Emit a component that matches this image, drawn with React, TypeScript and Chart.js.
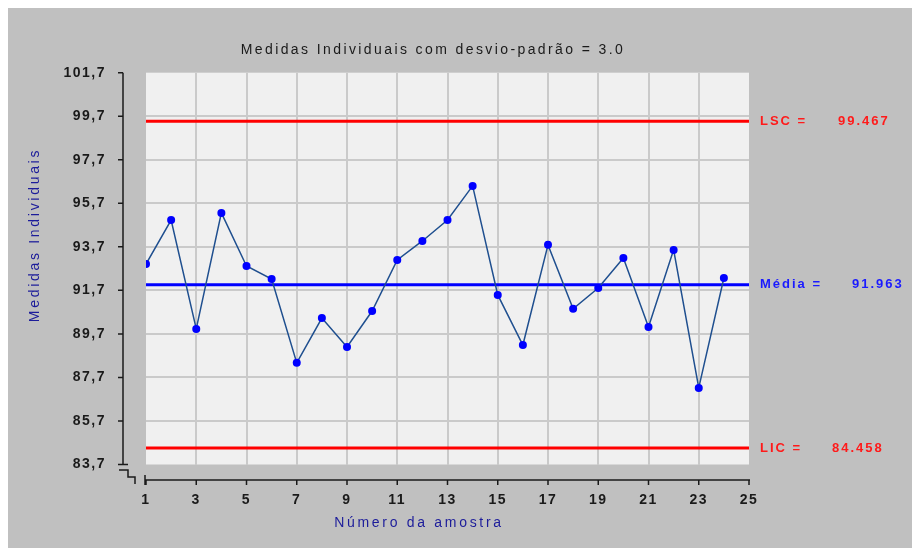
import { useEffect, useRef } from "react";
import { Chart, registerables } from "chart.js";

Chart.register(...registerables);

const sampleNumbers = [1, 2, 3, 4, 5, 6, 7, 8, 9, 10, 11, 12, 13, 14, 15, 16, 17, 18, 19, 20, 21, 22, 23, 24];
const measurements = [
  92.91, 94.93, 89.93, 95.26, 92.82, 92.22, 88.37, 90.43, 89.1, 90.75, 93.1, 93.97,
  94.93, 96.5, 91.49, 89.19, 93.79, 90.85, 91.81, 93.19, 90.02, 93.56, 87.22, 92.27,
];
const xTickValues = [1, 3, 5, 7, 9, 11, 13, 15, 17, 19, 21, 23, 25];
const yTickValues = [83.7, 85.7, 87.7, 89.7, 91.7, 93.7, 95.7, 97.7, 99.7, 101.7];
const LSC = 99.467;
const MEDIA = 91.963;
const LIC = 84.458;
const TITLE = "Medidas Individuais com desvio-padrão = 3.0";
const X_TITLE = "Número da amostra";
const Y_TITLE = "Medidas Individuais";

const FONT = "'Liberation Sans', Arial, sans-serif";

export default function App() {
  const ref = useRef<HTMLCanvasElement | null>(null);

  useEffect(() => {
    const canvas = ref.current;
    if (!canvas) return;

    const decor = {
      id: "decor",
      beforeDraw(chart: any) {
        const { ctx, chartArea: a } = chart;
        ctx.save();
        ctx.fillStyle = "#c0c0c0";
        ctx.fillRect(0, 0, chart.width, chart.height);
        ctx.fillStyle = "#f0f0f0";
        ctx.fillRect(a.left, a.top, a.right - a.left, a.bottom - a.top);
        ctx.restore();
        (ctx as any).letterSpacing = "1.5px";
      },
      afterDraw(chart: any) {
        const { ctx } = chart;
        const xs = chart.scales.x;
        const ys = chart.scales.y;
        ctx.save();
        ctx.strokeStyle = "#1a1a1a";
        ctx.lineWidth = 1.5;
        const axX = 115;
        const yTop = ys.getPixelForValue(yTickValues[yTickValues.length - 1]);
        const yBot = ys.getPixelForValue(yTickValues[0]);
        ctx.beginPath();
        ctx.moveTo(axX, yTop);
        ctx.lineTo(axX, yBot);
        for (const v of yTickValues) {
          const p = ys.getPixelForValue(v);
          ctx.moveTo(axX - 5, p);
          ctx.lineTo(axX, p);
        }
        ctx.moveTo(axX - 4, yBot);
        ctx.lineTo(axX + 5, yBot);
        // break symbol
        ctx.moveTo(111, 462);
        ctx.lineTo(120, 462);
        ctx.lineTo(120, 469);
        ctx.lineTo(127, 469);
        ctx.lineTo(127, 476);
        ctx.stroke();

        const axY = 472;
        const x0 = xs.getPixelForValue(xTickValues[0]);
        const x1 = xs.getPixelForValue(xTickValues[xTickValues.length - 1]);
        ctx.beginPath();
        ctx.moveTo(x0 - 1, axY);
        ctx.lineTo(x1 + 1, axY);
        for (const v of xTickValues) {
          const p = xs.getPixelForValue(v);
          ctx.moveTo(p, axY);
          ctx.lineTo(p, axY + 5);
        }
        ctx.moveTo(x0 - 1, axY - 5);
        ctx.lineTo(x0 - 1, axY + 5);
        ctx.stroke();

        // title
        (ctx as any).letterSpacing = "2.4px";
        ctx.fillStyle = "#1a1a1a";
        ctx.font = `14px ${FONT}`;
        ctx.textAlign = "center";
        ctx.textBaseline = "middle";
        ctx.fillText(TITLE, 425, 42);

        // axis titles
        (ctx as any).letterSpacing = "2.7px";
        ctx.fillStyle = "#1c1c9a";
        ctx.fillText(X_TITLE, 411, 515);
        ctx.save();
        ctx.translate(27, 227);
        ctx.rotate(-Math.PI / 2);
        ctx.fillText(Y_TITLE, 0, 0);
        ctx.restore();

        // control labels
        (ctx as any).letterSpacing = "2px";
        ctx.textAlign = "left";
        ctx.font = `bold 13px ${FONT}`;
        const rows: [string, number, string, number][] = [
          ["LSC =", LSC, "#ff1a1a", 830],
          ["Média =", MEDIA, "#1a1aff", 844],
          ["LIC =", LIC, "#ff1a1a", 824],
        ];
        for (const [lab, val, col, vx] of rows) {
          const p = ys.getPixelForValue(val);
          ctx.fillStyle = col;
          ctx.fillText(lab, 752, p);
          ctx.fillText(val.toFixed(3), vx, p);
        }
        ctx.restore();
      },
    };

    const hline = (v: number) => [
      { x: xTickValues[0], y: v },
      { x: xTickValues[xTickValues.length - 1], y: v },
    ];

    const chart = new Chart(canvas, {
      type: "line",
      data: {
        datasets: [
          {
            data: sampleNumbers.map((x, i) => ({ x, y: measurements[i] })),
            borderColor: "#1f4f8f",
            borderWidth: 1.5,
            pointRadius: 4,
            pointBackgroundColor: "#0000ff",
            pointBorderColor: "#0000ff",
            pointBorderWidth: 0,
            tension: 0,
          },
          { data: hline(MEDIA), borderColor: "#0000ff", borderWidth: 3, pointRadius: 0 },
          { data: hline(LSC), borderColor: "#ff0000", borderWidth: 3, pointRadius: 0 },
          { data: hline(LIC), borderColor: "#ff0000", borderWidth: 3, pointRadius: 0 },
        ],
      },
      options: {
        animation: false,
        responsive: false,
        devicePixelRatio: 1,
        layout: { padding: { top: 64.7, right: 171, left: 0, bottom: 0 } },
        plugins: { legend: { display: false }, tooltip: { enabled: false }, title: { display: false } },
        scales: {
          x: {
            type: "linear",
            min: 1,
            max: 25,
            afterBuildTicks: (s: any) => {
              s.ticks = xTickValues.map((v) => ({ value: v }));
            },
            afterFit: (s: any) => {
              s.height = 83.5;
            },
            border: { display: false },
            grid: {
              drawTicks: false,
              lineWidth: 2,
              color: (c: any) =>
                c.tick && (c.tick.value === 1 || c.tick.value === 25) ? "rgba(0,0,0,0)" : "#cacaca",
            },
            ticks: {
              autoSkip: false,
              maxRotation: 0,
              padding: 27,
              color: "#1a1a1a",
              font: { family: FONT, size: 14, weight: "bold" },
              callback: (v: any) => String(v),
            },
          },
          y: {
            type: "linear",
            min: 83.7,
            max: 101.7,
            afterBuildTicks: (s: any) => {
              s.ticks = yTickValues.map((v) => ({ value: v }));
            },
            afterFit: (s: any) => {
              s.width = 138;
            },
            border: { display: false },
            grid: {
              drawTicks: false,
              lineWidth: 2,
              color: (c: any) =>
                c.tick && (c.tick.value === 83.7 || c.tick.value === 101.7) ? "rgba(0,0,0,0)" : "#cacaca",
            },
            ticks: {
              padding: 40,
              color: "#1a1a1a",
              font: { family: FONT, size: 14, weight: "bold" },
              callback: (v: any) => Number(v).toFixed(1).replace(".", ","),
            },
          },
        },
      },
      plugins: [decor],
    } as any);

    return () => chart.destroy();
  }, []);

  return (
    <div style={{ width: 912, height: 540 }}>
      <canvas ref={ref} width={912} height={540} style={{ display: "block", width: 912, height: 540 }} />
    </div>
  );
}
